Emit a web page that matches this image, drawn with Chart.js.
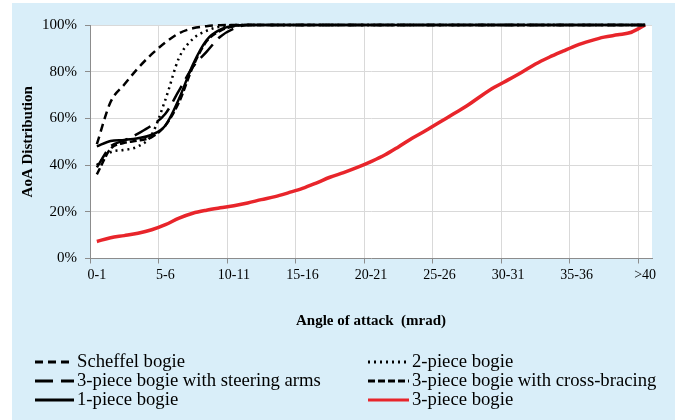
<!DOCTYPE html>
<html>
<head>
<meta charset="utf-8">
<title>AoA Distribution</title>
<script src="https://cdn.jsdelivr.net/npm/chart.js@4.4.0/dist/chart.umd.min.js"></script>
<style>
    html, body { margin: 0; padding: 0; background: #ffffff; }
    #wrap { position: absolute; left: 12px; top: 3px; width: 663px; height: 417px; background: #d9eef9; }
</style>
</head>
<body>
<div id="wrap"><canvas id="aoaChart" width="663" height="417"></canvas></div>
<script>
// Angle of attack bins (mrad)
const angleLabels = [
    '0-1', '1-2', '2-3', '3-4', '4-5', '5-6', '6-7', '7-8', '8-9', '9-10',
    '10-11', '11-12', '12-13', '13-14', '14-15', '15-16', '16-17', '17-18', '18-19', '19-20',
    '20-21', '21-22', '22-23', '23-24', '24-25', '25-26', '26-27', '27-28', '28-29', '29-30',
    '30-31', '31-32', '32-33', '33-34', '34-35', '35-36', '36-37', '37-38', '38-39', '39-40',
    '>40'
];

// cumulative AoA distribution (%)
const scheffelBogie = [
    49, 67, 74.5, 81.5, 87.5, 92.5, 96.5, 98.6, 99.5, 99.9,
    100, 100, 100, 100, 100, 100, 100, 100, 100, 100,
    100, 100, 100, 100, 100, 100, 100, 100, 100, 100,
    100, 100, 100, 100, 100, 100, 100, 100, 100, 100,
    100
];
const twoPieceBogie = [
    40, 45.5, 46.5, 48, 53, 68, 86, 94, 97.5, 99.3,
    100, 100, 100, 100, 100, 100, 100, 100, 100, 100,
    100, 100, 100, 100, 100, 100, 100, 100, 100, 100,
    100, 100, 100, 100, 100, 100, 100, 100, 100, 100,
    100
];
const steeringArmsBogie = [
    39, 48, 50.5, 53.5, 57, 62, 72, 82, 88.5, 95,
    98.5, 100, 100, 100, 100, 100, 100, 100, 100, 100,
    100, 100, 100, 100, 100, 100, 100, 100, 100, 100,
    100, 100, 100, 100, 100, 100, 100, 100, 100, 100,
    100
];
const crossBracingBogie = [
    36, 47, 49.5, 50.5, 52, 57, 67, 82, 93, 97.5,
    99.5, 100, 100, 100, 100, 100, 100, 100, 100, 100,
    100, 100, 100, 100, 100, 100, 100, 100, 100, 100,
    100, 100, 100, 100, 100, 100, 100, 100, 100, 100,
    100
];
const onePieceBogie = [
    48, 50.3, 50.8, 51.5, 53, 57, 68.5, 83, 93.5, 98,
    99.7, 100, 100, 100, 100, 100, 100, 100, 100, 100,
    100, 100, 100, 100, 100, 100, 100, 100, 100, 100,
    100, 100, 100, 100, 100, 100, 100, 100, 100, 100,
    100
];
const threePieceBogie = [
    7.3, 8.9, 9.8, 10.8, 12.3, 14.5, 17.3, 19.4, 20.7, 21.7,
    22.6, 23.8, 25.2, 26.5, 28.2, 30.0, 32.3, 34.8, 36.8, 39.0,
    41.5, 44.3, 47.8, 51.5, 54.8, 58.3, 61.9, 65.4, 69.5, 73.3,
    76.5, 79.8, 83.3, 86.2, 88.8, 91.3, 93.2, 94.8, 95.8, 96.9,
    100
];

const serif = 'Liberation Serif, Times New Roman, serif';

function makeLine(label, data, color, width, dash) {
    return {
        label: label,
        data: data,
        borderColor: color,
        backgroundColor: color,
        borderWidth: width,
        borderDash: dash,
        pointRadius: 0,
        fill: false,
        cubicInterpolationMode: 'monotone',
        clip: 5
    };
}

// white plot area
const plotBackground = {
    id: 'plotBackground',
    beforeDraw(chart) {
        const a = chart.chartArea;
        chart.ctx.save();
        chart.ctx.fillStyle = '#ffffff';
        chart.ctx.fillRect(a.left, a.top, a.right - a.left, a.bottom - a.top);
        chart.ctx.restore();
    }
};

// legend in two columns under the axis title
const twoColumnLegend = {
    id: 'twoColumnLegend',
    afterDraw(chart) {
        const ctx = chart.ctx;
        chart.data.datasets.forEach(function(ds, i) {
            const col = i % 2;
            const row = Math.floor(i / 2);
            const x0 = col === 0 ? 23 : 356;
            const x1 = col === 0 ? 62 : 397;
            const y = 359 + row * 19;
            ctx.save();
            ctx.strokeStyle = ds.borderColor;
            ctx.lineWidth = 3;
            ctx.setLineDash(ds.borderDash);
            ctx.beginPath();
            ctx.moveTo(x0, y);
            ctx.lineTo(x1, y);
            ctx.stroke();
            ctx.setLineDash([]);
            ctx.fillStyle = '#000';
            ctx.font = '18.7px ' + serif;
            ctx.textBaseline = 'middle';
            ctx.fillText(ds.label, x1 + 3, y);
            ctx.restore();
        });
    }
};

const ctx = document.getElementById('aoaChart').getContext('2d');
new Chart(ctx, {
    type: 'line',
    data: {
        labels: angleLabels,
        datasets: [
            makeLine('Scheffel bogie', scheffelBogie, '#000000', 2.5, [8, 5]),
            makeLine('2-piece bogie', twoPieceBogie, '#000000', 2.5, [2, 4]),
            makeLine('3-piece bogie with steering arms', steeringArmsBogie, '#000000', 2.5, [18, 8]),
            makeLine('3-piece bogie with cross-bracing', crossBracingBogie, '#000000', 2.5, [7, 3]),
            makeLine('1-piece bogie', onePieceBogie, '#000000', 2.5, []),
            makeLine('3-piece bogie', threePieceBogie, '#e8252b', 3.5, [])
        ]
    },
    options: {
        responsive: false,
        animation: false,
        layout: { padding: { left: 0, right: 23, top: 22, bottom: 89.5 } },
        plugins: {
            legend: { display: false },
            tooltip: { enabled: false }
        },
        scales: {
            x: {
                offset: true,
                grid: {
                    offset: true,
                    tickLength: 5,
                    color: c => (c.index % 5 === 0 ? '#d9d9d9' : 'rgba(0,0,0,0)'),
                    tickColor: c => (c.index % 5 === 0 ? '#8c8c8c' : 'rgba(0,0,0,0)')
                },
                border: { color: '#8c8c8c', width: 1 },
                ticks: {
                    autoSkip: false,
                    maxRotation: 0,
                    padding: 3,
                    color: '#000',
                    font: { family: serif, size: 14 },
                    callback: function(value, index) {
                        return index % 5 === 0 ? this.getLabelForValue(value) : '';
                    }
                },
                title: {
                    display: true,
                    text: 'Angle of attack  (mrad)',
                    color: '#000',
                    font: { family: serif, size: 15, weight: 'bold' },
                    padding: 0
                },
                afterFit: function(scale) { scale.height = 72; }
            },
            y: {
                min: 0,
                max: 100,
                grid: { color: '#d9d9d9', tickColor: '#8c8c8c', tickLength: 5 },
                border: { color: '#8c8c8c', width: 1 },
                ticks: {
                    stepSize: 20,
                    padding: 8,
                    color: '#000',
                    font: { family: serif, size: 15 },
                    callback: v => v + '%'
                },
                title: {
                    display: true,
                    text: 'AoA Distribution',
                    color: '#000',
                    font: { family: serif, size: 15, weight: 'bold' },
                    padding: { top: 7, bottom: 0 }
                },
                afterFit: function(scale) { scale.width = 78; }
            }
        }
    },
    plugins: [plotBackground, twoColumnLegend]
});
</script>
</body>
</html>
